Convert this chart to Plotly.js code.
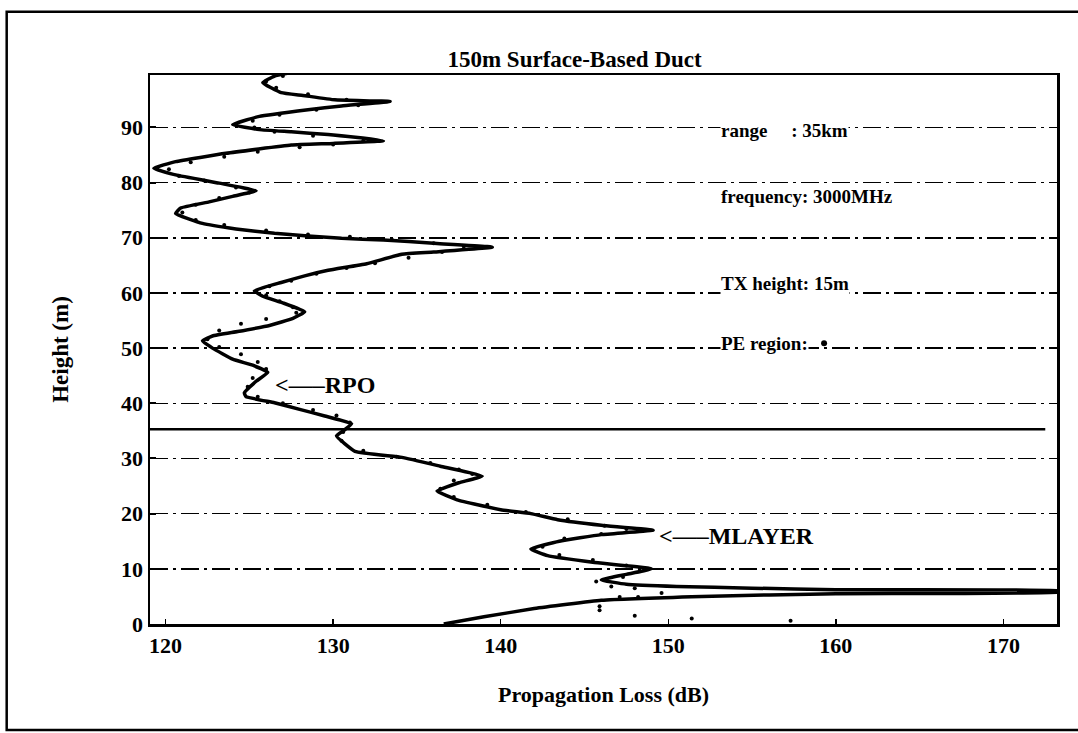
<!DOCTYPE html>
<html>
<head>
<meta charset="utf-8">
<script src="https://cdn.plot.ly/plotly-3.0.1.min.js"></script>
<style>html,body{margin:0;padding:0;background:#fff;}#chart{width:1078px;height:733px;}</style>
</head>
<body>
<div id="chart"></div>
<script>
// Solid curve: propagation loss (dB) vs height (m), traced top to bottom
const curveLoss = [127.4,126.5,125.8,126.9,128.2,130.1,133.4,130.5,128.5,125.6,124.0,125.6,127.5,129.7,133.0,130.0,127.5,123.6,120.6,119.3,120.6,123.2,125.4,124.0,122.6,120.9,120.6,122.2,124.2,126.5,130.5,133.0,136.0,139.5,136.0,134.1,132.0,129.7,128.3,126.9,125.3,125.8,127.0,128.3,127.6,126.2,124.3,122.8,122.2,122.8,124.0,125.2,126.1,125.4,124.7,124.8,126.5,128.0,129.5,131.1,130.6,130.2,131.3,134.1,136.4,138.9,137.5,136.2,137.4,140.0,141.8,143.4,146.0,149.1,146.0,143.5,141.8,142.8,145.5,149.0,147.5,146.0,147.5,150.5,155.0,160.0,173.6,173.6,160.0,152.0,146.0,142.0,139.0,136.6];
const curveHeight = [99.9,99.3,98.1,96.3,95.8,95.0,94.7,93.9,93.2,92.0,90.5,89.6,89.2,88.7,87.6,87.1,86.8,85.3,83.8,82.6,81.4,79.9,78.5,77.5,76.5,75.4,74.4,72.6,71.6,70.8,69.9,69.6,69.0,68.3,67.4,67.0,65.3,64.1,63.1,61.9,60.4,59.4,58.2,56.6,55.4,54.1,53.0,52.2,51.3,50.0,48.0,46.9,45.6,44.0,41.9,41.2,40.1,38.9,37.7,36.3,35.0,34.1,31.3,30.2,28.6,26.8,25.6,24.1,22.5,20.7,20.0,18.9,17.9,17.0,16.2,15.0,13.6,12.4,11.2,10.0,9.0,8.0,7.2,6.8,6.5,6.2,6.0,5.8,5.5,5.0,4.3,2.8,1.3,0.0];

// Dotted series (reference points)
const dotLoss = [127.0,126.0,126.6,128.5,130.8,132.0,131.5,129.0,126.8,125.2,125.3,126.5,128.8,131.8,130.0,128.0,125.5,123.5,121.5,120.2,120.8,122.3,124.2,125.0,123.2,121.8,121.0,121.8,123.5,126.0,128.5,131.0,133.5,136.0,137.8,136.5,134.5,132.5,130.8,129.0,127.5,126.2,126.0,126.8,127.6,127.8,126.0,124.5,123.2,122.5,123.2,124.5,125.5,126.0,125.2,124.9,125.5,127.0,128.8,130.2,131.0,130.6,130.5,131.8,133.8,135.8,137.5,138.3,137.2,136.4,137.2,139.2,141.5,144.0,146.2,147.5,146.0,143.8,142.5,143.5,145.5,147.5,148.8,147.3,145.7,146.6,148.0,149.6,147.1,148.2,145.9,145.9,148.0,151.4,157.3];
const dotHeight = [99.3,98.3,97.2,96.0,95.0,94.6,94.0,93.2,92.3,91.2,90.0,89.2,88.5,87.6,86.9,86.4,85.6,84.7,83.7,82.4,81.2,80.4,79.1,78.2,77.2,76.0,74.6,73.2,72.3,71.3,70.6,70.2,69.7,69.0,68.4,67.4,66.4,65.4,64.5,63.5,62.2,61.2,59.6,58.5,57.4,56.4,55.3,54.4,53.2,51.6,50.2,48.9,47.5,46.2,44.6,43.0,41.2,40.0,38.8,37.8,36.5,34.8,33.2,31.4,30.3,29.2,28.0,27.2,26.0,24.5,23.0,21.6,20.3,19.0,17.8,17.2,16.3,15.5,14.0,12.5,11.6,10.6,10.0,8.5,7.7,6.8,6.5,5.6,4.9,4.9,3.2,2.5,1.5,1.0,0.6];

// Duct top (solid horizontal line)
const ductLoss = [119.07, 172.5];
const ductHeight = [35.3, 35.3];

// PE region marker
const peLoss = [159.3];
const peHeight = [50.9];

const xTicks = [120,130,140,150,160,170];
const yTicks = [0,10,20,30,40,50,60,70,80,90];

const infoText = ["range&nbsp;&nbsp;&nbsp;&nbsp;&nbsp;: 35km","frequency: 3000MHz","TX height: 15m","PE region:"];
const infoHeight = [89.5, 77.4, 61.7, 50.9];
const infoLoss = 153.1;

const FONT = "Liberation Serif, Times New Roman, serif";
const bold = s => '<b>' + s + '</b>';

const traces = [
  {x: curveLoss, y: curveHeight, mode: 'lines', line: {color: '#000', width: 3.5, shape: 'spline', smoothing: 0.35}, hoverinfo: 'skip', showlegend: false},
  {x: dotLoss, y: dotHeight, mode: 'markers', marker: {color: '#000', size: 4}, hoverinfo: 'skip', showlegend: false},
  {x: ductLoss, y: ductHeight, mode: 'lines', line: {color: '#000', width: 2.5}, hoverinfo: 'skip', showlegend: false},
  {x: peLoss, y: peHeight, mode: 'markers', marker: {color: '#000', size: 6}, hoverinfo: 'skip', showlegend: false}
];

const annotations = infoText.map((t, i) => ({
  x: infoLoss, y: infoHeight[i], xref: 'x', yref: 'y', text: bold(t), showarrow: false,
  xanchor: 'left', yanchor: 'middle', font: {family: FONT, size: 19, color: '#000'},
  bgcolor: '#fff', borderpad: 0
}));
annotations.push({x: 126.4, y: 43.3, xref: 'x', yref: 'y', text: bold('<\u2014\u2013RPO'), showarrow: false,
  xanchor: 'left', yanchor: 'middle', font: {family: FONT, size: 24, color: '#000'}});
annotations.push({x: 149.3, y: 15.9, xref: 'x', yref: 'y', text: bold('<\u2014\u2013MLAYER'), showarrow: false,
  xanchor: 'left', yanchor: 'middle', font: {family: FONT, size: 24, color: '#000'}});

const layout = {
  width: 1078, height: 733,
  margin: {l: 150, r: 21, t: 75, b: 109},
  paper_bgcolor: '#fff', plot_bgcolor: '#fff',
  font: {family: FONT, color: '#000'},
  title: {text: bold('150m Surface-Based Duct'), x: 0.533, xanchor: 'center', y: 0.92, yanchor: 'middle',
          font: {family: FONT, size: 23, color: '#000'}},
  xaxis: {
    range: [119.07, 173.2], tickvals: xTicks, ticktext: xTicks.map(v => bold(String(v))),
    showgrid: false, zeroline: false,
    showline: true, mirror: true, linecolor: '#000', linewidth: 2.5,
    ticks: 'inside', ticklen: 5, tickcolor: '#000', tickwidth: 1.5,
    tickfont: {family: FONT, size: 22, color: '#000'},
    title: {text: bold('Propagation Loss (dB)'), font: {family: FONT, size: 22, color: '#000'}, standoff: 30}
  },
  yaxis: {
    range: [0, 99.5], tickvals: yTicks, ticktext: yTicks.map(v => bold(String(v))),
    showgrid: true, gridcolor: '#000', gridwidth: 1.5, griddash: '18px,5px,3px,5px',
    zeroline: false,
    showline: true, mirror: true, linecolor: '#000', linewidth: 2.5,
    ticks: 'inside', ticklen: 6, tickcolor: '#000', tickwidth: 2,
    tickfont: {family: FONT, size: 22, color: '#000'},
    title: {text: bold('Height (m)'), font: {family: FONT, size: 23, color: '#000'}, standoff: 46}
  },
  annotations: annotations,
  shapes: [
    {type: 'rect', xref: 'paper', yref: 'paper', x0: -0.158, x1: 1.25, y0: -0.193, y1: 1.115,
     line: {color: '#000', width: 2.5}, fillcolor: 'rgba(0,0,0,0)'}
  ]
};

Plotly.newPlot('chart', traces, layout, {staticPlot: true, displayModeBar: false});
</script>
</body>
</html>
